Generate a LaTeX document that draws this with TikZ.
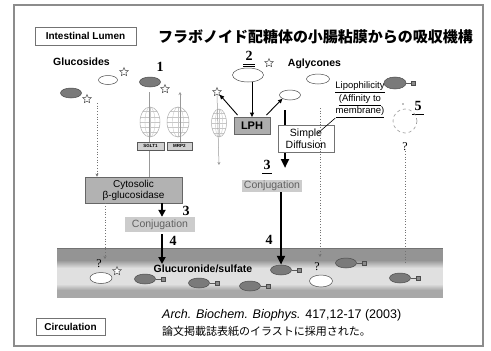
\documentclass[tikz,border=0pt]{standalone}
\usepackage{fontspec}
\setmainfont{Liberation Serif}
\setsansfont{Liberation Sans}
\newfontfamily\jpfont{Noto Sans CJK JP}
\usetikzlibrary{shapes.geometric,arrows.meta,calc}

% a cell / transporter drawn as a hatched globe: x, y, x radius, y radius
\newcommand\cellglobe[4]{%
  \begin{scope}
    \clip (#1,#2) ellipse [x radius=#3, y radius=#4];
    \foreach \k in {-0.7,-0.35,0,0.35,0.7}
      \draw[black!22, line width=0.4pt] (#1-#3,#2+\k*#4) -- (#1+#3,#2+\k*#4);
    \draw[black!22, line width=0.4pt] (#1,#2) ellipse [x radius=0.5*#3, y radius=#4];
    \draw[black!22, line width=0.4pt] (#1,#2-#4) -- (#1,#2+#4);
  \end{scope}
  \draw[black!32, line width=0.5pt] (#1,#2) ellipse [x radius=#3, y radius=#4];}

% a conjugated aglycone: filled ellipse with a small square tag
\newcommand\conjmol[3]{%
  \node[glc] (#1) at (#2,#3) {};
  \node[tagsq] (#1t) at (#2+18,#3) {};
  \draw[black!65, line width=0.6pt] (#1) -- (#1t);}

\begin{document}
\begin{tikzpicture}[x=1pt,y=-1pt,
  lbl/.style={font=\sffamily\bfseries\fontsize{10.5}{12}\selectfont, inner sep=0pt},
  tagbox/.style={draw=black!55, line width=0.7pt, fill=white,
    font=\sffamily\bfseries\fontsize{10}{12}\selectfont, inner sep=1pt},
  num/.style={font=\rmfamily\bfseries\fontsize{14}{14}\selectfont, inner sep=0pt},
  qm/.style={font=\rmfamily\fontsize{12}{12}\selectfont, inner sep=0pt},
  glc/.style={ellipse, draw=black!70, fill=black!52, line width=0.5pt,
    minimum width=21pt, minimum height=10pt, inner sep=0pt},
  agl/.style={ellipse, draw=black!70, fill=white, line width=0.5pt,
    minimum width=21pt, minimum height=10pt, inner sep=0pt},
  sugar/.style={star, star points=5, star point ratio=2.2, draw=black!70,
    fill=white, line width=0.5pt, minimum size=9pt, inner sep=0pt},
  tagsq/.style={rectangle, draw=black!70, fill=black!45, minimum size=3.5pt, inner sep=0pt},
  enzyme/.style={draw=black!60, fill=black!30, line width=0.8pt,
    font=\sffamily\fontsize{10}{11}\selectfont, align=center, inner sep=1pt},
  conjbox/.style={fill=black!20, text=black!62,
    font=\sffamily\fontsize{10.5}{12}\selectfont, inner sep=1pt},
  transp/.style={draw=black!65, fill=black!18, line width=0.5pt,
    font=\sffamily\bfseries\fontsize{4.5}{5}\selectfont, inner sep=0pt,
    minimum height=8pt},
  dotline/.style={black!55, dotted, line width=0.7pt},
  pathline/.style={black!40, line width=0.5pt},
  smallhead/.style={-{Stealth[length=3pt,width=3pt]}},
  lpharrow/.style={black, line width=0.9pt, -{Triangle[length=4.5pt,width=4pt]}},
  bigarrow/.style={black, line width=2.3pt, -{Triangle[length=9pt,width=8pt]}},
  midarrow/.style={black, line width=1.8pt, -{Triangle[length=7pt,width=7pt]}}
]
\useasboundingbox (0,0) rectangle (491,351);
\fill[white] (0,0) rectangle (491,351);

% slide frame
\draw[black!45, line width=1.3pt] (14,5) rectangle (483,346);

% circulation band: darker edges, light middle, built from thin strips
\foreach \i in {0,...,49}{
  \pgfmathsetmacro\bandtone{\i<12 ? 42 : (\i<20 ? 42-30*(\i-12)/8 : (\i<36 ? 12 : (\i<42 ? 12+22*(\i-36)/6 : 34)))}
  \fill[black!\bandtone] (57,248+\i) rectangle (443,249.3+\i);
}
\draw[black!55, line width=0.6pt] (57,248) -- (443,248);

% headings
\node[tagbox, minimum width=101pt, minimum height=18pt] (lumen) at (85.5,36) {Intestinal Lumen};
\node[font=\jpfont\bfseries\fontsize{15}{15}\selectfont, inner sep=0pt] (title) at (315.5,37)
  {フラボノイド配糖体の小腸粘膜からの吸収機構};
\node[lbl] (gluc) at (81.5,62) {Glucosides};
\node[lbl] (agly) at (314.5,64) {Aglycones};

% ---- glucoside route (1) ----
\node[num] (n1) at (160,67) {1};
\node[agl, minimum width=19pt, minimum height=9pt] (g1) at (108,80) {};
\node[sugar] (g1s) at (124,72) {};
\node[glc] (g2) at (71,93) {};
\node[sugar] (g2s) at (87,99) {};
\node[glc] (g3) at (150,82) {};
\node[sugar] (g3s) at (165,89) {};

\node[enzyme, minimum width=97pt, minimum height=26pt] (cyto) at (133.5,190)
  {Cytosolic\\β-glucosidase};

\cellglobe{150}{122}{10}{15}
\cellglobe{178}{122}{11}{15}
\cellglobe{219}{123}{7.5}{14}

\coordinate (s1top) at (149,92);
\draw[pathline] (s1top) -- (s1top |- cyto.north);
\coordinate (m2top) at (180,92);
\coordinate (m2bot) at (180,147);
\draw[pathline, smallhead] (m2bot) -- (m2top);
\node[transp, minimum width=27pt] (sglt) at (150.5,146) {SGLT1};
\node[transp, minimum width=25pt] (mrp) at (179.5,146) {MRP2};

\coordinate (d1top) at (97,103);
\draw[dotline, smallhead] (d1top) -- (d1top |- cyto.north);
\coordinate (d2bot) at (105,259);
\draw[dotline, smallhead] (d2bot |- cyto.south) -- (d2bot);

\node[conjbox, minimum width=70pt, minimum height=15pt] (conjL) at (160,224.5) {Conjugation};
\node[num] (n3L) at (186,211) {3};
\coordinate (c3La) at ($(cyto.south)+(28.5,0)$);
\draw[midarrow] (c3La) -- (c3La |- conjL.north);
\coordinate (c4La) at (162,234);
\coordinate (c4Lb) at (162,264);
\draw[midarrow] (c4La) -- (c4Lb);
\node[num] (n4L) at (173,241) {4};

% ---- aglycone route (2, 3, 4) ----
\node[num] (n2) at (249,56) {2};
\draw[line width=0.6pt] (243,64) -- (255,64) (243,66.5) -- (255,66.5);
\node[agl, minimum width=31pt, minimum height=14pt] (a1) at (248,75) {};
\node[sugar] (a1s) at (269,63) {};
\node[draw=black!60, fill=black!32, line width=0.8pt, minimum width=36pt, minimum height=17pt,
  font=\sffamily\bfseries\fontsize{11}{12}\selectfont, inner sep=0pt] (lph) at (252,126) {LPH};
\node[sugar] (a2) at (217,92) {};
\node[agl] (a3) at (290,95) {};
\node[agl, minimum width=23pt] (a4) at (318,79) {};

\draw[lpharrow] (a1.south -| lph.north) -- (lph.north);
\draw[lpharrow] (lph.north west) ++(4,-2) -- (a2.south east);
\draw[lpharrow] (lph.north east) ++(-4,-2) -- (a3.south west);

\coordinate (a2bot) at (219,165);
\draw[pathline, smallhead] (a2.south) -- (a2bot);

\coordinate (dtop) at (285,110);
\coordinate (dend) at (285,168);
\draw[bigarrow] (dtop) -- (dend);
\node[draw=black!55, fill=white, line width=0.7pt, minimum width=56pt, minimum height=27pt,
  align=center, font=\sffamily\fontsize{10.5}{11.5}\selectfont, inner sep=0pt] (simp) at (306,138.5)
  {Simple\\Diffusion};

\node[font=\sffamily\fontsize{9.5}{12.5}\selectfont, align=center, inner sep=0pt] (lipo) at (360,100)
  {\underline{Lipophilicity}\\\underline{(Affinity to}\\\underline{membrane)}};
\coordinate (lk) at (318,133);
\draw[black, line width=0.6pt] (lipo.south west) -- (lk);
\node[glc, minimum width=22pt, minimum height=12pt] (a5) at (395,83) {};
\node[tagsq] (a5t) at (413,83) {};
\draw[black!65, line width=0.6pt] (a5) -- (a5t);

\node[num] (n3R) at (267,165) {3};
\draw[line width=0.6pt] (262,173) -- (272,173);
\node[conjbox, minimum width=60pt, minimum height=12pt] (conjR) at (272,186) {Conjugation};
\node[num] (n4R) at (269,240) {4};

% ---- route 5 ----
\node[num] (n5) at (418,106) {5};
\draw[line width=0.6pt] (412,114) -- (424,114);
\draw[black!40, dashed, line width=0.6pt] (405,121) circle [radius=12];
\fill[black!50] (403,104) circle [radius=0.8];
\node[qm] (q5) at (405,147) {?};

% dotted paths down to the circulation
\coordinate (d3top) at (320,108);
\coordinate (d3bot) at (320,257);
\draw[dotline, smallhead] (d3top) -- (d3bot);
\coordinate (d5bot) at (405,262);
\draw[dotline] (q5.south) -- (d5bot);

% ---- circulation contents ----
\node[qm] (qb1) at (99,264) {?};
\node[agl, minimum width=22pt, minimum height=11pt] (b1) at (101,278) {};
\node[sugar] (b1s) at (117,271) {};
\node[qm] (qb2) at (317,267) {?};
\node[agl, minimum width=23pt, minimum height=12pt] (b2) at (321,281) {};

\conjmol{c1}{145}{279}
\conjmol{c2}{199}{283}
\conjmol{c3}{250}{286}
\conjmol{c4}{281}{270}
\conjmol{c5}{346}{263}
\conjmol{c6}{400}{278}

\draw[bigarrow] (conjR.south -| c4) -- (c4.north);

\node[lbl] (gsul) at (203,269) {Glucuronide/sulfate};

% ---- footer ----
\node[tagbox, minimum width=69pt, minimum height=17pt] (circ) at (70.5,326.5) {Circulation};
\node[anchor=west, font=\sffamily\fontsize{12.5}{13}\selectfont, inner sep=0pt] (ref) at (162,315)
  {\itshape Arch. Biochem. Biophys.\upshape{} 417,12-17 (2003)};
\node[anchor=west, font=\jpfont\fontsize{11}{12}\selectfont, inner sep=0pt] (note) at (162,331)
  {論文掲載誌表紙のイラストに採用された。};
\end{tikzpicture}
\end{document}
